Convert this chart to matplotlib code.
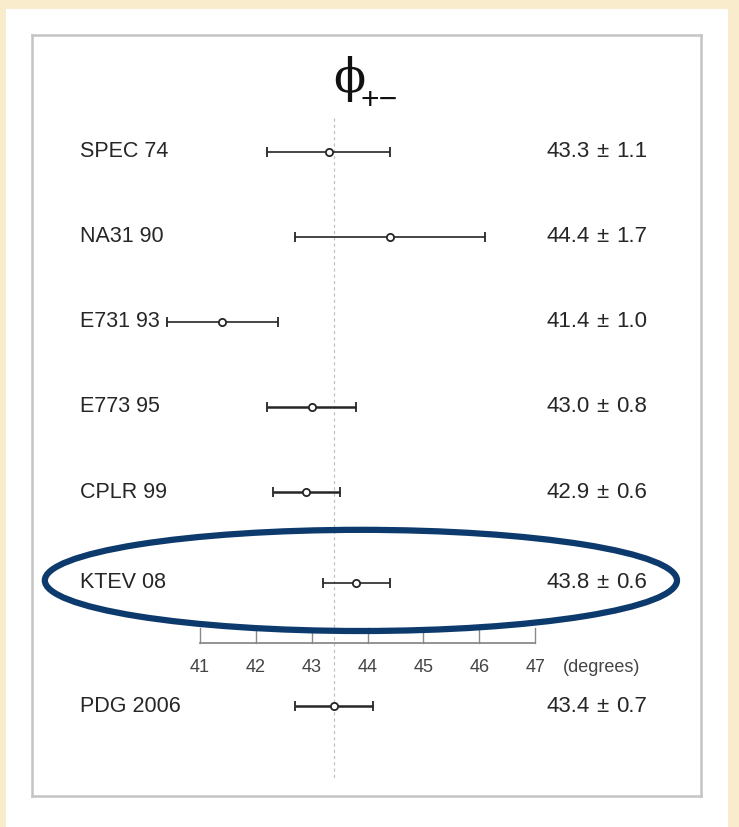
import numpy as np
import matplotlib
matplotlib.use("Agg")
import matplotlib.pyplot as plt
from matplotlib.patches import Rectangle, Ellipse

plt.rcParams['font.family'] = ['Liberation Sans', 'DejaVu Sans']

# phi_{+-} measurements (degrees)
labels = ["SPEC 74", "NA31 90", "E731 93", "E773 95", "CPLR 99", "KTEV 08"]
values = [43.3, 44.4, 41.4, 43.0, 42.9, 43.8]
errors = [1.1, 1.7, 1.0, 0.8, 0.6, 0.6]
avg_label = "PDG 2006"
avg_value = 43.4
avg_error = 0.7
ticks = [41, 42, 43, 44, 45, 46, 47]

# row layout
rows = [0, 1, 2, 3, 4, 5.07]
avg_row = 6.52
line_w = [1.2, 1.2, 1.2, 1.8, 1.8, 1.2]

fig = plt.figure(figsize=(7.39, 8.27), dpi=100)
fig.patch.set_facecolor('#f9eccd')
W, H = 739.0, 827.0
fig.patches.append(Rectangle((6 / W, 0), (728 - 6) / W, (827 - 9) / H,
                             transform=fig.transFigure, facecolor='white',
                             edgecolor='none', zorder=-5))

ax = fig.add_axes([32 / W, (H - 796) / H, (701 - 32) / W, (796 - 35) / H])
ax.set_xlim(37.99, 49.97)
ax.set_ylim(7.576, -1.376)
ax.set_xticks([])
ax.set_yticks([])
for s in ax.spines.values():
    s.set_color('#c4c4c4')
    s.set_linewidth(1.8)

ink = '#262626'

# reference line at the average
ax.plot([avg_value, avg_value], [-0.4, 7.39], ls=(0, (2.5, 2.5)), color='#c0c0c0', lw=0.9, zorder=1)

def draw_row(y, v, e, lab, lw):
    ax.errorbar(v, y, xerr=e, fmt='o', ms=5.2, mfc='white', mec=ink, mew=1.3,
                ecolor=ink, elinewidth=lw, capsize=3.5, capthick=lw, zorder=3)
    ax.text(38.85, y, lab, ha='left', va='center', fontsize=15.5, color=ink)
    ax.text(47.98, y, f"{v:.1f}", ha='right', va='center', fontsize=16, color=ink)
    ax.text(48.21, y, "\u00b1", ha='center', va='center', fontsize=16, color=ink)
    ax.text(48.45, y, f"{e:.1f}", ha='left', va='center', fontsize=16, color=ink)

for y, v, e, lab, lw in zip(rows, values, errors, labels, line_w):
    draw_row(y, v, e, lab, lw)
draw_row(avg_row, avg_value, avg_error, avg_label, 1.8)

# scale bar
axis_y = 5.776
ax.plot([ticks[0], ticks[-1]], [axis_y, axis_y], color='#8a8a8a', lw=1.3, zorder=2)
for t in ticks:
    ax.plot([t, t], [axis_y, 5.6], color='#8a8a8a', lw=1.0, zorder=2)
    ax.text(t, 6.07, str(t), ha='center', va='center', fontsize=13, color='#444444')
ax.text(47.5, 6.07, "(degrees)", ha='left', va='center', fontsize=13, color='#444444')

# title: phi_{+-}
ax.text(43.39, -0.86, "\u03d5", ha='left', va='center', fontsize=34, color='#111111',
        family=['DejaVu Serif', 'Liberation Serif'])
ax.text(43.88, -0.6, "+\u2212", ha='left', va='center', fontsize=23, color='#111111')

# highlight around the KTEV result
ax.add_patch(Ellipse((43.88, 5.04), 11.32, 1.19, fill=False,
                     edgecolor='#0d3a6c', lw=4.5, zorder=4, clip_on=False))

fig.savefig('out.png', dpi=100)
